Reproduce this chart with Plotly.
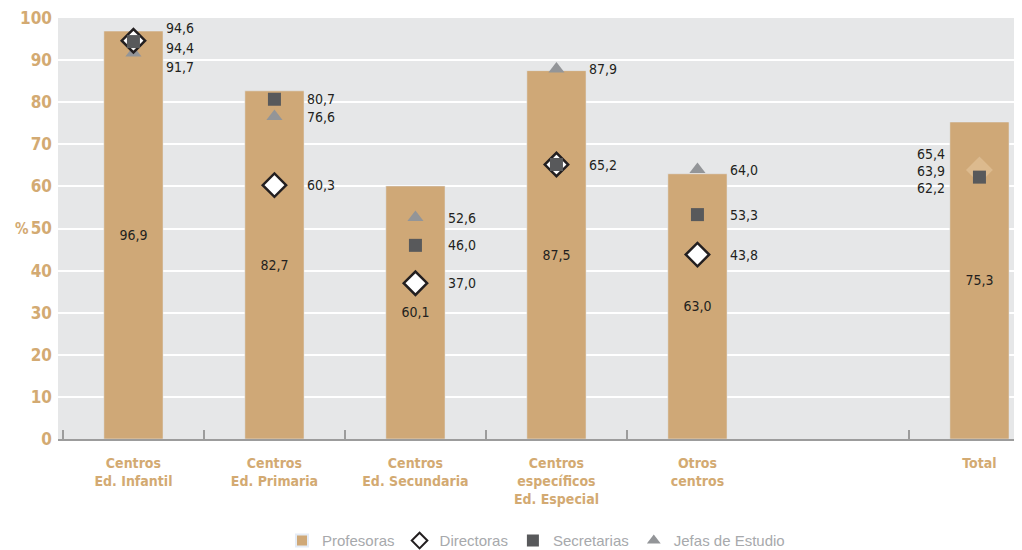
import plotly.graph_objects as go

categories = ["Centros<br>Ed. Infantil", "Centros<br>Ed. Primaria", "Centros<br>Ed. Secundaria",
              "Centros<br>específicos<br>Ed. Especial", "Otros<br>centros", "Total"]
axis_order = categories[:5] + [" "] + categories[5:]  # hueco antes de Total

profesoras = [96.9, 82.7, 60.1, 87.5, 63.0, 75.3]
directoras = [94.6, 60.3, 37.0, 65.2, 43.8, 63.9]
secretarias = [94.4, 80.7, 46.0, 65.2, 53.3, 62.2]
jefas = [91.7, 76.6, 52.6, 87.9, 64.0, 65.4]

TAN = "#cfa877"
TAN_TXT = "#d3aa72"
NARROW = "DejaVu Sans Condensed, sans-serif"
TXT = "#231f20"


def fmt(v):
    return f"{v:.1f}".replace(".", ",")


fig = go.Figure()
fig.add_trace(go.Bar(x=categories, y=profesoras, name="Profesoras", marker_color=TAN, width=0.42,
                     text=[fmt(v) for v in profesoras], textposition="inside", insidetextanchor="middle",
                     textfont=dict(family=NARROW, size=14, color=TXT), legendrank=1))
fig.add_trace(go.Scatter(x=categories, y=jefas, name="Jefas de Estudio", mode="markers",
                         marker=dict(symbol="triangle-up", size=14, color="#939598"), legendrank=4))
# el rombo de Total sale en tono arena en el original
dir_fill = ["white"] * 5 + ["#dcba8e"]
dir_line = [TXT] * 5 + ["#dcba8e"]
fig.add_trace(go.Scatter(x=categories, y=directoras, name="Directoras", mode="markers",
                         marker=dict(symbol="diamond", size=18, color=dir_fill,
                                     line=dict(color=dir_line, width=2.5)), legendrank=2))
fig.add_trace(go.Scatter(x=categories, y=secretarias, name="Secretarias", mode="markers",
                         marker=dict(symbol="square", size=13, color="#58595b"), legendrank=3))

# etiquetas de los puntos; desplazamientos verticales donde se solapan
shifts = {(0, "d"): 13, (0, "s"): -6, (0, "j"): -14, (5, "j"): 10, (5, "d"): -1, (5, "s"): -11}
for i, cat in enumerate(categories):
    seen = set()
    for key, vals in (("j", jefas), ("d", directoras), ("s", secretarias)):
        v = vals[i]
        if v in seen:
            continue
        seen.add(v)
        right = cat != "Total"
        fig.add_annotation(x=cat, y=v, text=fmt(v), showarrow=False,
                           xanchor="left" if right else "right", xshift=31 if right else -32,
                           yshift=shifts.get((i, key), 0),
                           font=dict(family=NARROW, size=14, color=TXT))

fig.add_annotation(xref="paper", yref="y", x=-0.047, y=50, text="<b>%</b>", showarrow=False,
                   font=dict(family=NARROW, size=15, color=TAN_TXT))

# la página añade 8 px de margen al body
fig.update_layout(
    width=1006, height=542,
    margin=dict(l=50, r=0, t=10, b=111),
    plot_bgcolor="#e6e7e8", paper_bgcolor="white",
    showlegend=True,
    legend=dict(orientation="h", x=0.5, xanchor="center", yref="container", y=0.017, yanchor="middle",
                font=dict(family="Liberation Sans, Arial, sans-serif", size=15, color="#a7a9ac"),
                itemsizing="constant"),
)
fig.update_xaxes(type="category", categoryorder="array", categoryarray=axis_order,
                 range=[-0.535, 6.245], showgrid=False, automargin=False,
                 ticks="inside", tickson="boundaries", ticklen=9, tickcolor="#9c9c9c", tickwidth=1.5,
                 showline=True, linecolor="#9c9c9c", linewidth=2, ticklabelstandoff=10,
                 tickfont=dict(family=NARROW, size=14, color=TAN_TXT))
fig.update_xaxes(tickvals=categories, ticktext=[f"<b>{c}</b>" for c in categories])
fig.update_yaxes(range=[0, 100], dtick=10, showgrid=True, gridcolor="white", gridwidth=2,
                 zeroline=False, ticks="", ticklabelstandoff=5, automargin=False,
                 ticklabeloverflow="allow",
                 tickfont=dict(family=NARROW, size=17, color=TAN_TXT), tickprefix="<b>", ticksuffix="</b>")

fig.write_html("out.html")
